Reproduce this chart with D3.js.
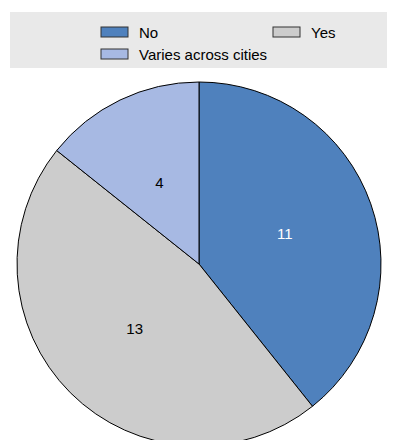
<!DOCTYPE html>
<html lang="en">
<head>
    <meta charset="UTF-8">
    <title>Pie</title>
    <script src="https://d3js.org/d3.v7.min.js"></script>
    <style>
        body {
            margin: 0;
            background: #fff;
            font-family: 'Liberation Sans', Arial, sans-serif;
        }
        .legend-text {
            font-size: 15px;
            fill: #000;
        }
        .slice-label {
            font-size: 15px;
            text-anchor: middle;
            dominant-baseline: central;
        }
    </style>
</head>
<body>
    <svg id="chart" width="395" height="440"></svg>

    <script>
        const categories = ["No", "Yes", "Varies across cities"];
        const values = [11, 13, 4];
        const colors = ["#4f81bd", "#cccccc", "#a7b9e3"];
        const labelColors = ["#fff", "#000", "#000"];

        const cx = 199, cy = 264, radius = 182;

        const svg = d3.select("#chart");

        // legend box
        const legend = svg.append("g");
        legend.append("rect")
              .attr("x", 10).attr("y", 12)
              .attr("width", 377).attr("height", 56)
              .attr("fill", "#e9e9e9");

        const legendPos = [
            { x: 101, y: 27 },
            { x: 273, y: 27 },
            { x: 101, y: 49 }
        ];

        const items = legend.selectAll(".item")
            .data(categories)
            .enter()
            .append("g")
            .attr("class", "item")
            .attr("transform", (d, i) => `translate(${legendPos[i].x},${legendPos[i].y})`);

        items.append("rect")
             .attr("width", 27).attr("height", 10)
             .attr("fill", (d, i) => colors[i])
             .attr("stroke", "#333")
             .attr("stroke-width", 1);

        items.append("text")
             .attr("class", "legend-text")
             .attr("x", 38).attr("y", 11)
             .text(d => d);

        // pie
        const pie = d3.pie().sort(null).value(d => d);
        const arc = d3.arc().innerRadius(0).outerRadius(radius);
        const labelArc = d3.arc().innerRadius(radius * 0.5).outerRadius(radius * 0.5);

        const g = svg.append("g")
                     .attr("transform", `translate(${cx},${cy})`);

        const arcs = pie(values);

        g.selectAll("path")
         .data(arcs)
         .enter()
         .append("path")
         .attr("d", arc)
         .attr("fill", (d, i) => colors[i])
         .attr("stroke", "#000")
         .attr("stroke-width", 1);

        g.selectAll(".slice-label")
         .data(arcs)
         .enter()
         .append("text")
         .attr("class", "slice-label")
         .attr("transform", d => `translate(${labelArc.centroid(d)})`)
         .attr("fill", (d, i) => labelColors[i])
         .text(d => d.value);
    </script>
</body>
</html>
